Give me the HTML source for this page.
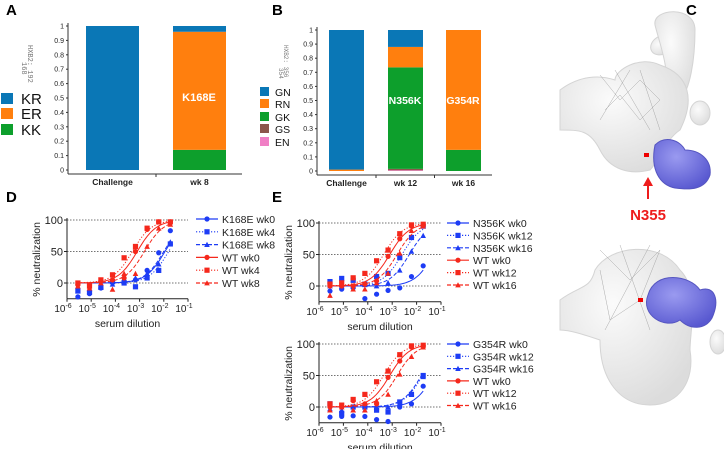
<!DOCTYPE html>
<html><head><meta charset="utf-8"><style>
body{margin:0;background:#fff;font-family:"Liberation Sans",Arial,sans-serif}
svg{display:block}
</style></head><body>
<svg id="fig" width="724" height="449" viewBox="0 0 724 449" xmlns="http://www.w3.org/2000/svg" font-family="Liberation Sans, Arial, sans-serif">
<defs>
<radialGradient id="gg" cx="0.4" cy="0.35" r="0.7"><stop offset="0" stop-color="#fbfbfb"/><stop offset="1" stop-color="#dcdcdc"/></radialGradient>
<radialGradient id="bg" cx="0.4" cy="0.35" r="0.7"><stop offset="0" stop-color="#9a9af0"/><stop offset="1" stop-color="#5858d0"/></radialGradient>
</defs>
<g id="panelC">
<g fill="url(#gg)" stroke="#d4d4d4" stroke-width="1">
<ellipse cx="662" cy="45" rx="12" ry="9" transform="rotate(-30 662 45)"/>
<path d="M655 25 C 652 8, 695 5, 695 30 C 695 60, 690 90, 680 100 L 665 90 C 670 70, 660 45, 655 25 Z"/>
<ellipse cx="700" cy="113" rx="10" ry="12"/>
<path d="M560 90 C 580 75, 600 75, 615 80 C 615 70, 640 55, 660 65 C 690 75, 695 100, 680 130 C 665 140, 660 160, 650 170 C 630 175, 610 170, 600 150 C 590 130, 580 130, 560 130 Z"/>
<path d="M560 300 C 580 285, 590 290, 595 270 C 610 245, 660 240, 680 270 C 700 290, 690 330, 690 350 C 695 380, 680 405, 650 405 C 620 405, 600 380, 600 340 C 585 335, 570 330, 560 330 Z"/>
<ellipse cx="718" cy="342" rx="8" ry="12"/>
</g>
<g stroke="#999" stroke-width="0.5" fill="none" opacity="0.8">
<path d="M600 75 L620 100 L640 80 L660 100 L640 120 L620 95 L605 110 M615 70 L650 130 M630 70 L600 120 M640 70 L660 130"/>
<path d="M600 250 L630 280 L660 250 L640 300 L610 320 L600 270 M620 245 L650 330 M650 245 L605 330"/>
</g>
<path d="M655 145 C 665 135, 680 140, 685 150 C 700 150, 712 160, 710 175 C 705 190, 690 190, 675 188 C 660 185, 650 170, 655 145 Z" fill="url(#bg)" stroke="#5555c0"/>
<path d="M648 295 C 655 270, 690 275, 700 290 C 715 285, 720 300, 712 318 C 705 330, 690 330, 680 320 C 665 330, 640 315, 648 295 Z" fill="url(#bg)" stroke="#5555c0"/>
<rect x="644" y="153" width="5" height="4" fill="#e00"/>
<rect x="638" y="298" width="5" height="4" fill="#e00"/>
<line x1="648" y1="199" x2="648" y2="184" stroke="#ee1c1c" stroke-width="2"/>
<polygon points="643,186 653,186 648,177" fill="#ee1c1c"/>
<text x="648" y="220" text-anchor="middle" fill="#ee1c1c" font-weight="bold" font-size="15">N355</text>
</g>
<g id="labels" font-weight="bold" font-size="15">
<text x="6" y="15">A</text>
<text x="272" y="15">B</text>
<text x="686" y="15">C</text>
<text x="6" y="202">D</text>
<text x="272" y="202">E</text>
</g>
</svg>
<script>
// ---- bar chart data ----
const aCats=["Challenge","wk 8"];
const aKR=[1,0.04];
const aER=[0,0.82];
const aKK=[0,0.14];
const bCats=["Challenge","wk 12","wk 16"];
const bGN=[0.99,0.12,0];
const bRN=[0.01,0.145,0.85];
const bGK=[0,0.72,0.15];
const bGS=[0,0.01,0];
const bEN=[0,0.005,0];
// ---- neutralization data ----
const logDil=[-5.55,-5.07,-4.6,-4.12,-3.64,-3.17,-2.69,-2.21,-1.73];
const dK0=[-22,-17,-8,3,3,5,20,48,83];
const dK4=[-12,-15,-7,2,0,-6,8,20,62];
const dK8=[-13,-10,-5,-2,4,8,15,30,65];
const dW0=[-3,-3,3,5,8,50,85,97,97];
const dW4=[0,-5,5,13,40,58,87,97,97];
const dW8=[-5,-8,0,-10,15,15,58,87,93];
const dIC50=[-1.95,-1.8,-2.0,-3.1,-3.3,-2.8];
const eN0=[-8,-5,-3,-20,-13,-7,-3,15,32];
const eN12=[7,12,9,3,15,20,45,77,95];
const eN16=[0,0,0,2,0,5,25,55,80];
const eW0=[0,0,0,3,8,47,75,95,97];
const eW12=[3,5,13,20,40,57,83,97,98];
const eW16=[-15,2,-5,-5,5,20,52,88,95];
const eIC50=[-1.3,-2.6,-2.3,-3.1,-3.35,-2.8];
const gG0=[-16,-15,-14,-15,-20,-23,0,5,33];
const gG12=[5,-10,0,0,-5,-8,8,20,50];
const gG16=[-3,-5,-5,-5,0,0,5,22,48];
const gW0=[0,0,10,5,5,47,73,95,97];
const gW12=[5,3,12,20,40,57,83,97,98];
const gW16=[-5,0,-5,-5,10,20,52,80,95];
const gIC50=[-1.3,-1.75,-1.8,-3.1,-3.35,-2.8];
const xTicks=[-6,-5,-4,-3,-2,-1];
const yTicks=[0,50,100];
const barTicks=[0,0.1,0.2,0.3,0.4,0.5,0.6,0.7,0.8,0.9,1];

const NS="http://www.w3.org/2000/svg";
const svg=document.getElementById('fig');
function mk(tag,attrs,parent){const e=document.createElementNS(NS,tag);for(const k in attrs)e.setAttribute(k,attrs[k]);(parent||svg).appendChild(e);return e;}
function txt(x,y,s,attrs,parent){const t=mk('text',Object.assign({x:x,y:y},attrs),parent);t.textContent=s;return t;}

const C={KR:"#0a77b6",ER:"#ff7f0e",KK:"#0d9f2c",GS:"#8c564b",EN:"#f07fc5"};

function barChart(g,cfg){
  const y=v=>cfg.y0-(cfg.y0-cfg.y1)*v;
  mk('line',{x1:cfg.ax,y1:cfg.y1-3,x2:cfg.ax,y2:cfg.y0+4,stroke:"#333","stroke-width":1},g);
  mk('line',{x1:cfg.ax,y1:cfg.y0+4,x2:cfg.axEnd,y2:cfg.y0+4,stroke:"#333","stroke-width":1},g);
  barTicks.forEach(t=>{
    mk('line',{x1:cfg.ax-2,y1:y(t),x2:cfg.ax,y2:y(t),stroke:"#333"},g);
    const l=txt(cfg.ax-4,y(t)+2.5,String(t),{"font-size":7,"text-anchor":"end",fill:"#222"},g);
    
    
  });
  cfg.cats.forEach((c,i)=>{
    const x0=cfg.bx[i];
    let acc=0;
    cfg.series.forEach(s=>{
      const v=s.vals[i];
      if(v>0){
        const r=mk('rect',{x:x0,y:y(acc+v),width:cfg.bw,height:y(acc)-y(acc+v),fill:s.color},g);
        
        
      }
      acc+=v;
    });
    const l=txt(x0+cfg.bw/2,cfg.y0+15,c,{"font-size":8.5,"font-weight":"bold","text-anchor":"middle",fill:"#222"},g);
    
    
    if(i<cfg.cats.length-1){const tx=(cfg.bx[i]+cfg.bw+cfg.bx[i+1])/2;mk('line',{x1:tx,y1:cfg.y0+4,x2:tx,y2:cfg.y0+7,stroke:"#333"},g);}
  });
}
const gA=mk('g',{});
barChart(gA,{ax:68,axEnd:242,y0:170,y1:26,bx:[86,173],bw:53,cats:aCats,series:[{name:'kk',vals:aKK,color:C.KK},{name:'er',vals:aER,color:C.ER},{name:'kr',vals:aKR,color:C.KR}]});
txt(199,101,"K168E",{"font-size":11,"font-weight":"bold",fill:"#fff","text-anchor":"middle"},gA);
[["KR",C.KR,93],["ER",C.ER,108],["KK",C.KK,124]].forEach(([n,c,yy])=>{
  const r=mk('rect',{x:1,y:yy,width:12,height:11,fill:c},gA);
  const t=txt(21,yy+11,n,{"font-size":15,fill:"#111"},gA);
});
txt(28,45,"HXB2: 192",{"font-size":7,fill:"#777",transform:"rotate(90 28 45)","font-family":"Liberation Mono, monospace"},gA);
txt(22,62,"168",{"font-size":7,fill:"#777",transform:"rotate(90 22 62)","font-family":"Liberation Mono, monospace"},gA);

const gB=mk('g',{});
barChart(gB,{ax:317,axEnd:492,y0:171,y1:30,bx:[329,388,446],bw:35,cats:bCats,series:[{name:'en',vals:bEN,color:C.EN},{name:'gs',vals:bGS,color:C.GS},{name:'gk',vals:bGK,color:C.KK},{name:'rn',vals:bRN,color:C.ER},{name:'gn',vals:bGN,color:C.KR}]});
txt(405,104,"N356K",{"font-size":10.5,"font-weight":"bold",fill:"#fff","text-anchor":"middle"},gB);
txt(463,104,"G354R",{"font-size":10.5,"font-weight":"bold",fill:"#fff","text-anchor":"middle"},gB);
[["GN",C.KR,87],["RN",C.ER,99],["GK",C.KK,112],["GS",C.GS,124],["EN",C.EN,137]].forEach(([n,c,yy])=>{
  const r=mk('rect',{x:260,y:yy,width:9,height:9,fill:c},gB);
  const t=txt(275,yy+9,n,{"font-size":10.5,fill:"#111"},gB);
});
txt(284,45,"HXB2: 356",{"font-size":6,fill:"#777",transform:"rotate(90 284 45)","font-family":"Liberation Mono, monospace"},gB);
txt(279,68,"354",{"font-size":6,fill:"#777",transform:"rotate(90 279 68)","font-family":"Liberation Mono, monospace"},gB);

const BLUE="#1d3cf5",RED="#f5281c";
function marker(g,shape,x,y,color){
  let m;
  if(shape==='c')m=mk('circle',{cx:x,cy:y,r:2.6,fill:color},g);
  else if(shape==='s')m=mk('rect',{x:x-2.6,y:y-2.6,width:5.2,height:5.2,fill:color},g);
  else m=mk('polygon',{points:`${x-2.8},${y+2.4} ${x+2.8},${y+2.4} ${x},${y-2.8}`,fill:color},g);
  return m;
}
const styles=[{c:BLUE,s:'c',d:''},{c:BLUE,s:'s',d:'1.2,1.8'},{c:BLUE,s:'t',d:'4,2'},{c:RED,s:'c',d:''},{c:RED,s:'s',d:'1.2,1.8'},{c:RED,s:'t',d:'4,2'}];
function neutChart(g,cfg){
  const X=l=>cfg.x0+(l+6)*cfg.dec;
  const Y=v=>cfg.y0-(cfg.y0-cfg.y100)*v/100;
  const bottom=Y(-25);
  yTicks.forEach(t=>{mk('line',{x1:X(-6),y1:Y(t),x2:X(-1),y2:Y(t),stroke:"#444","stroke-width":0.7,"stroke-dasharray":"1.5,1.5"},g);
    const l=txt(X(-6)-4,Y(t)+4,String(t),{"font-size":11,"text-anchor":"end",fill:"#222"},g);
    
    mk('line',{x1:X(-6)-3,y1:Y(t),x2:X(-6),y2:Y(t),stroke:"#222"},g);});
  mk('line',{x1:X(-6),y1:Y(100)-2,x2:X(-6),y2:bottom,stroke:"#222"},g);
  mk('line',{x1:X(-6),y1:bottom,x2:X(-1),y2:bottom,stroke:"#222"},g);
  xTicks.forEach(t=>{mk('line',{x1:X(t),y1:bottom,x2:X(t),y2:bottom+3,stroke:"#222"},g);
    const l=mk('text',{x:X(t)-4,y:bottom+13,"font-size":10,"text-anchor":"middle",fill:"#222"},g);
    
    l.appendChild(document.createTextNode('10'));
    const sp=mk('tspan',{dy:-4,"font-size":7},l);sp.textContent=String(t);});
  const xl=txt(X(-3.5),bottom+28,"serum dilution",{"font-size":10.5,"text-anchor":"middle",fill:"#222"},g);
  
  const yc=(Y(100)+bottom)/2;
  const yl=txt(cfg.x0-27,yc,"% neutralization",{"font-size":10.5,"text-anchor":"middle",fill:"#222",transform:`rotate(-90 ${cfg.x0-27} ${yc})`},g);
  
  cfg.series.forEach((vals,si)=>{
    const st=styles[si];
    let d='';
    for(let i=0;i<=60;i++){const l=logDil[0]+(logDil[8]-logDil[0])*i/60;const v=100/(1+Math.pow(10,(cfg.ic50[si]-l)*1.1));d+=(i?'L':'M')+X(l).toFixed(1)+' '+Y(v).toFixed(1);}
    const p=mk('path',{d:d,fill:"none",stroke:st.c,"stroke-width":1,"stroke-dasharray":st.d},g);
    
    
    vals.forEach((v,i)=>{
      const m=marker(g,st.s,X(logDil[i]),Y(v),st.c);
      
      
    });
    const ly=cfg.legY+si*cfg.legDy;
    mk('line',{x1:cfg.legX,y1:ly,x2:cfg.legX+22,y2:ly,stroke:st.c,"stroke-width":1.2,"stroke-dasharray":st.d},g);
    marker(g,st.s,cfg.legX+11,ly,st.c);
    const lt=txt(cfg.legX+26,ly+4,cfg.names[si],{"font-size":10.5,fill:"#222"},g);
    
  });
}
const gD=mk('g',{});
neutChart(gD,{x0:67,dec:24.2,y0:283,y100:220,series:[dK0,dK4,dK8,dW0,dW4,dW8],ic50:dIC50,names:["K168E wk0","K168E wk4","K168E wk8","WT wk0","WT wk4","WT wk8"],legX:196,legY:219,legDy:12.8});
const gE1=mk('g',{});
neutChart(gE1,{x0:319,dec:24.4,y0:286,y100:223,series:[eN0,eN12,eN16,eW0,eW12,eW16],ic50:eIC50,names:["N356K wk0","N356K wk12","N356K wk16","WT wk0","WT wk12","WT wk16"],legX:447,legY:223,legDy:12.4});
const gE2=mk('g',{});
neutChart(gE2,{x0:319,dec:24.4,y0:407,y100:344,series:[gG0,gG12,gG16,gW0,gW12,gW16],ic50:gIC50,names:["G354R wk0","G354R wk12","G354R wk16","WT wk0","WT wk12","WT wk16"],legX:447,legY:344,legDy:12.3});
svg.appendChild(document.getElementById('labels'));
</script>
</body></html>
